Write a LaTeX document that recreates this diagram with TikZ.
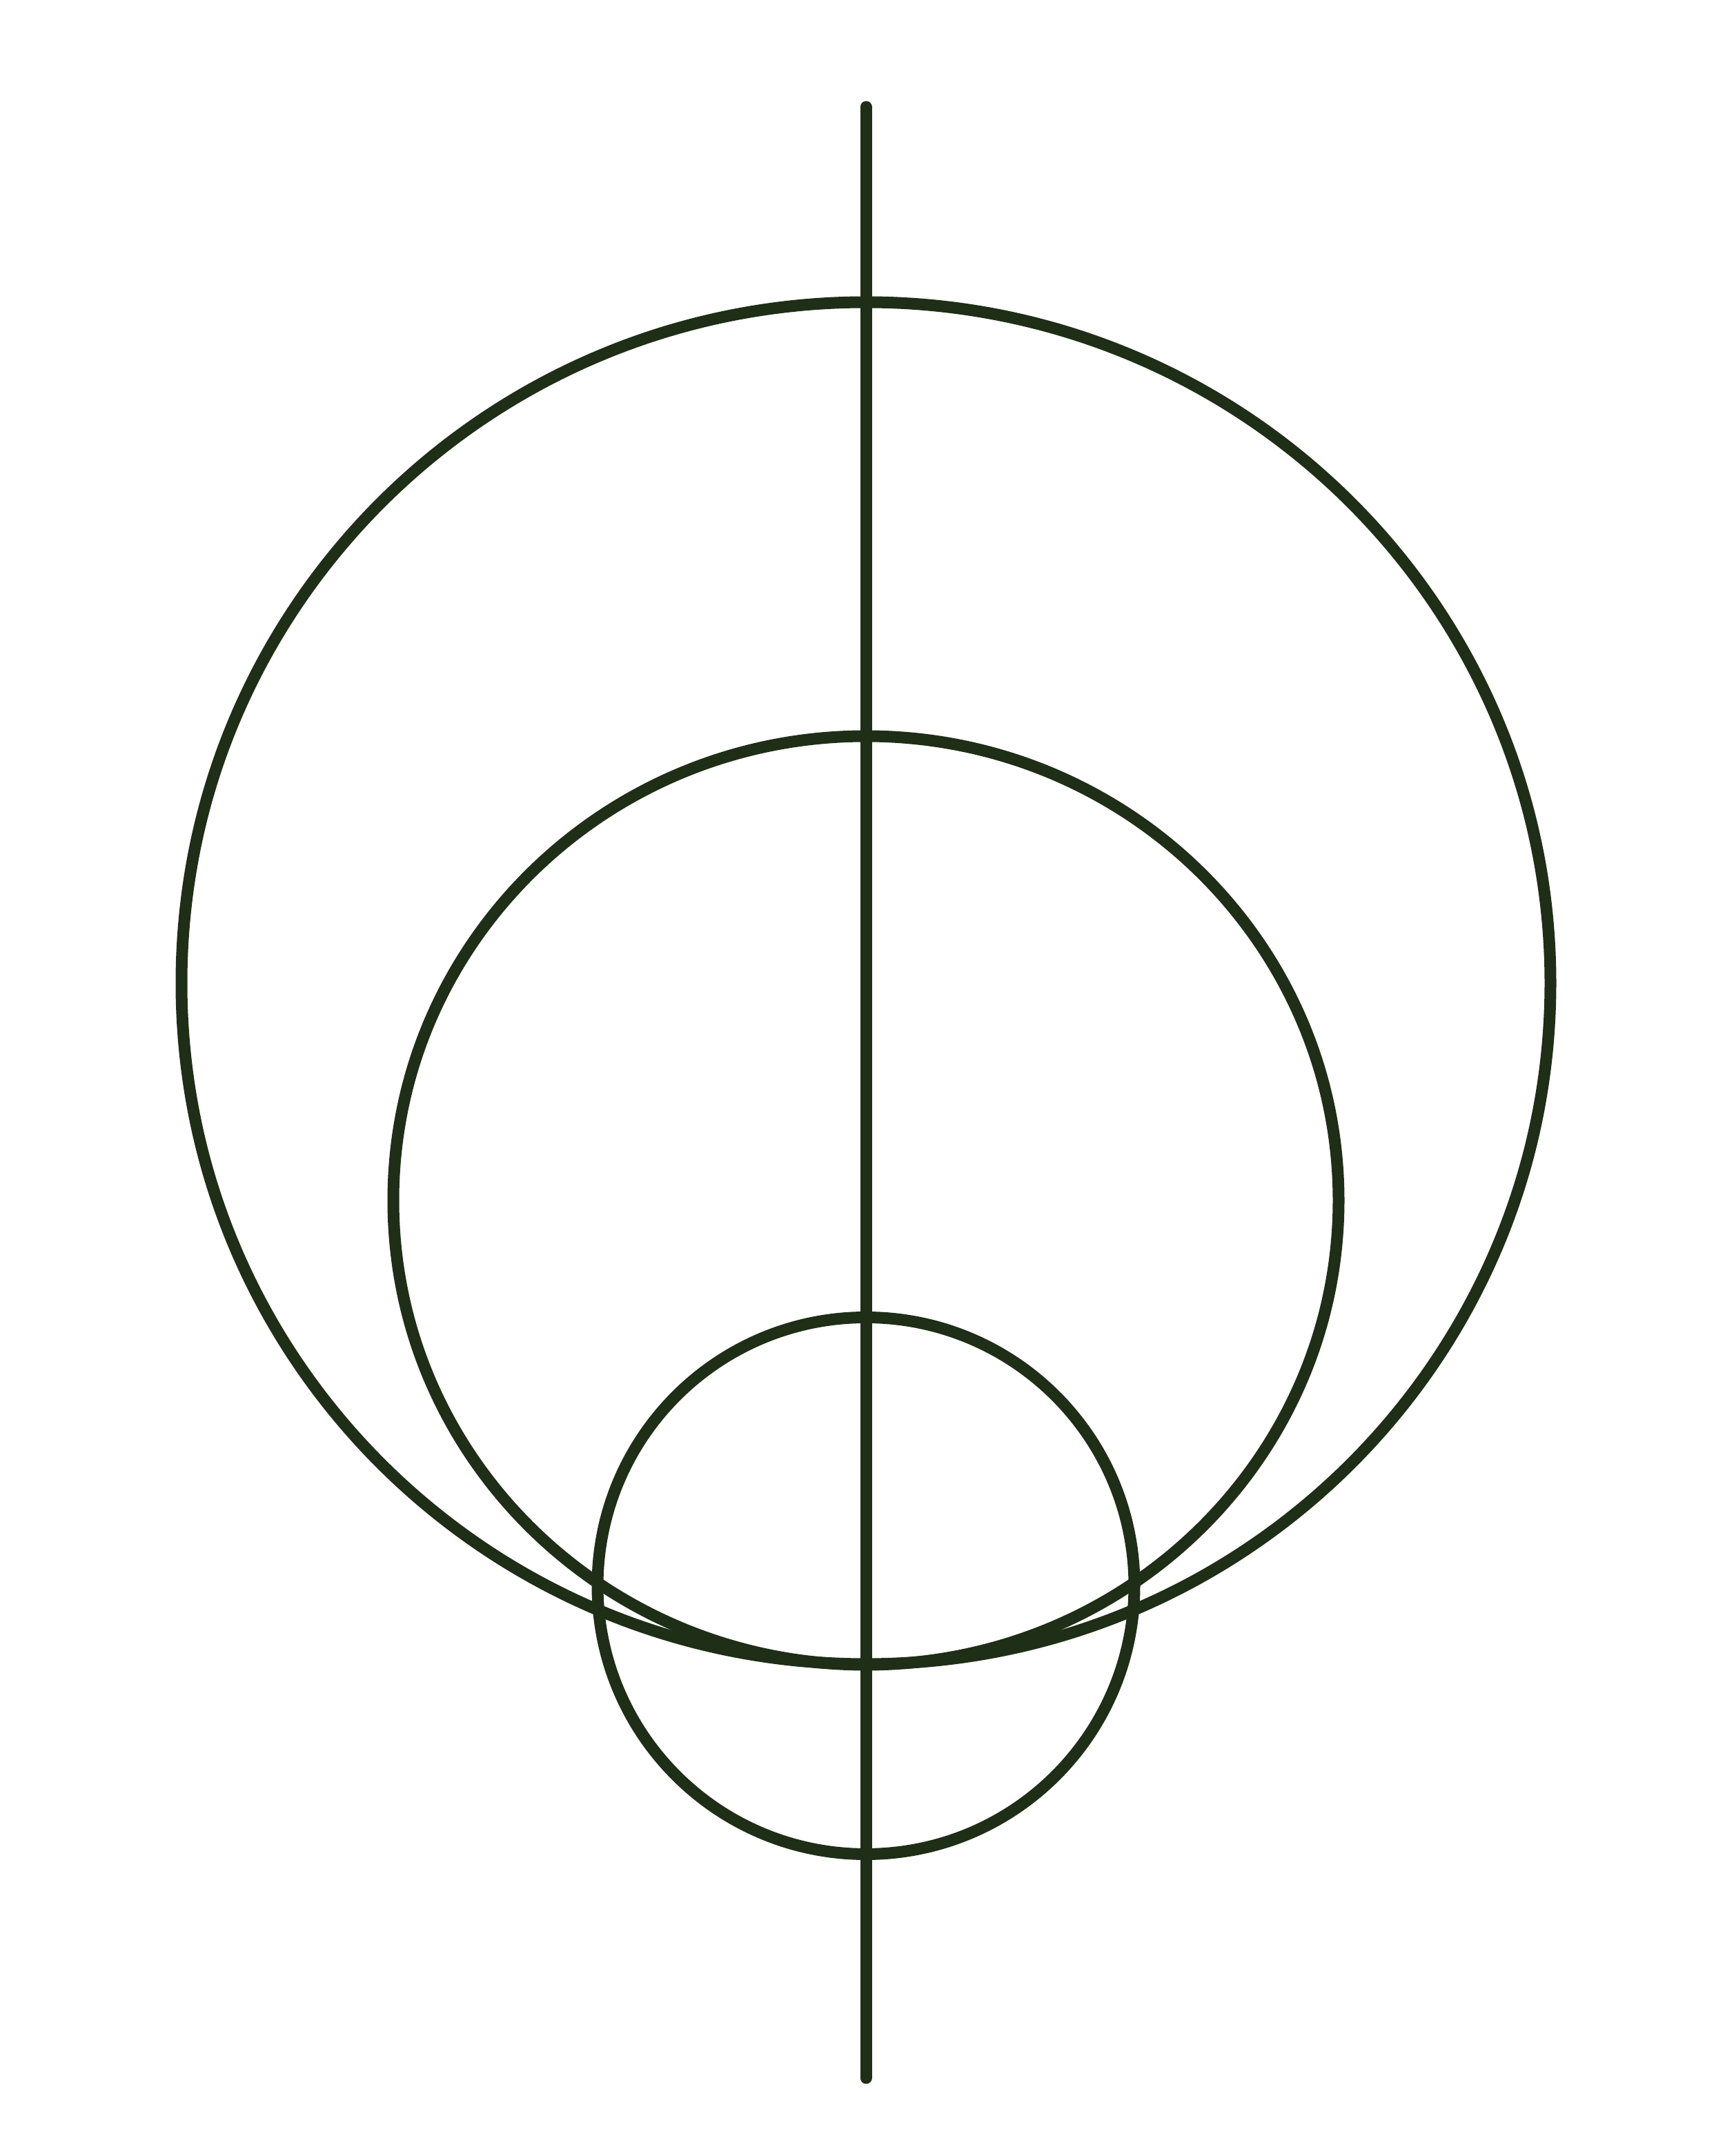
\documentclass[tikz,border=0pt]{standalone}
\usepackage{tikz}
\definecolor{ink}{RGB}{31,46,22}

\begin{document}
\begin{tikzpicture}[line width=0.17cm, ink]
        \useasboundingbox (0,0) rectangle (25,31.25);
        \coordinate (top) at (12.55,29.70);
        \coordinate (bot) at (12.55,1.13);
        \draw (12.55,17.00) ellipse [x radius=9.92, y radius=9.87];
        \draw (12.55,13.85) ellipse [x radius=6.85, y radius=6.73];
        \draw (12.55,8.265) circle [radius=3.89];
        \draw[line cap=round] (top)--(bot);
    \end{tikzpicture}
\end{document}
